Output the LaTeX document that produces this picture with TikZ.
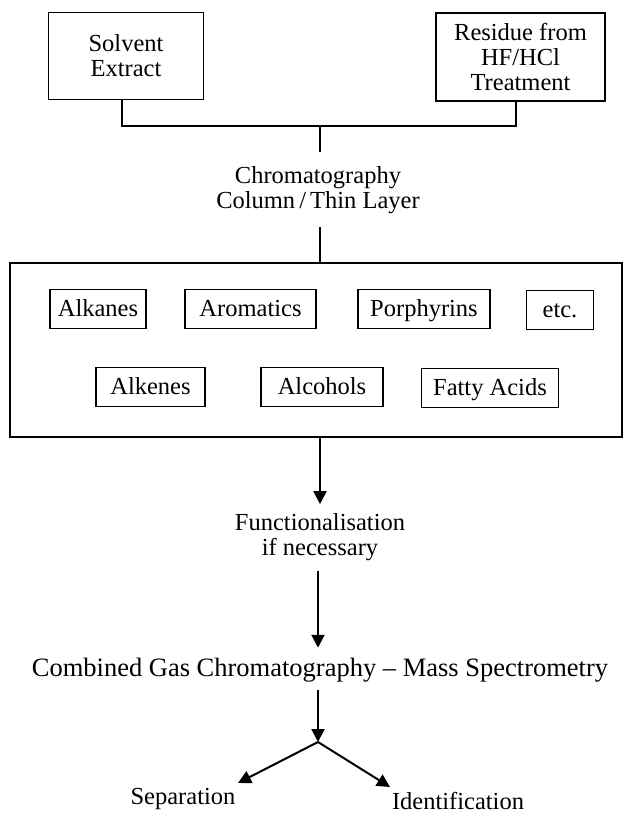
\documentclass[tikz,border=0pt]{standalone}
\usepackage{fontspec}
\setmainfont{Liberation Serif}
\usetikzlibrary{arrows.meta}
\tikzset{
  box/.style={draw, line width=1.8pt, align=center, inner sep=0pt},
  bigbox/.style={draw, line width=2.6pt, inner sep=0pt},
  item/.style={draw, line width=1.6pt, inner sep=0pt, minimum height=39pt, text height=16pt, text depth=1pt},
  txt/.style={align=center, inner sep=0pt},
  conn/.style={line width=1.8pt},
  arr/.style={line width=2pt, -{Triangle[length=13pt,width=13pt]}},
}
\begin{document}
\begin{tikzpicture}[x=1pt,y=-1pt, font=\fontsize{24.5}{25}\selectfont]
\useasboundingbox (0,0) rectangle (624,814);
% top boxes
\node[box, minimum width=155pt, minimum height=87pt] (solv) at (126,56) {Solvent\\Extract};
\node[box, minimum width=169pt, minimum height=88pt] (resid) at (520.5,57) {Residue from\\HF/HCl\\Treatment};
\coordinate (j) at (320,126);
\coordinate (jl) at (122,126);
\coordinate (jr) at (516,126);
\draw[conn] (solv.south -| jl) -- (jl) -- (jr) -- (resid.south -| jr);
\node[txt] (chrom) at (318,190) {Chromatography\\Column\,/\,Thin Layer};
\draw[conn, shorten >=38pt] (j) -- (chrom.center -| j);
% big box
\node[bigbox, minimum width=612pt, minimum height=174pt] (big) at (316,350) {};
\draw[conn, shorten <=37pt] (chrom.center -| j) -- (big.north -| j);
% items
\node[item, minimum width=96pt]  (alk)  at (98,309)  {Alkanes};
\node[item, minimum width=131pt] (aro)  at (250.5,309) {Aromatics};
\node[item, minimum width=132pt] (por)  at (424,309) {Porphyrins};
\node[item, minimum width=67pt]  (etc)  at (560,310) {etc.};
\node[item, minimum width=109pt] (alke) at (150.5,387) {Alkenes};
\node[item, minimum width=122pt] (alc)  at (322,387) {Alcohols};
\node[item, minimum width=137pt] (fat)  at (490,388) {Fatty Acids};
% lower flow
\node[txt] (func) at (320,537) {Functionalisation\\if necessary};
\draw[arr, shorten >=9pt] (big.south -| j) -- (func.north -| j);
\node[txt, font=\fontsize{26.5}{26}\selectfont] (gcms) at (320,670) {Combined Gas Chromatography -- Mass Spectrometry};
\draw[arr, shorten <=10pt, shorten >=10pt] (func.south -| 318,0) -- (gcms.north -| 318,0);
\coordinate (split) at (318,742);
\draw[arr, shorten <=8pt] (gcms.south -| split) -- (split);
\coordinate (sepend) at (238,783);
\coordinate (idend) at (390,787);
\draw[arr] (split) -- (sepend);
\draw[arr] (split) -- (idend);
\node[txt] (sep) at (183,799) {Separation};
\node[txt] (ident) at (458,801) {Identification};
\end{tikzpicture}
\end{document}
